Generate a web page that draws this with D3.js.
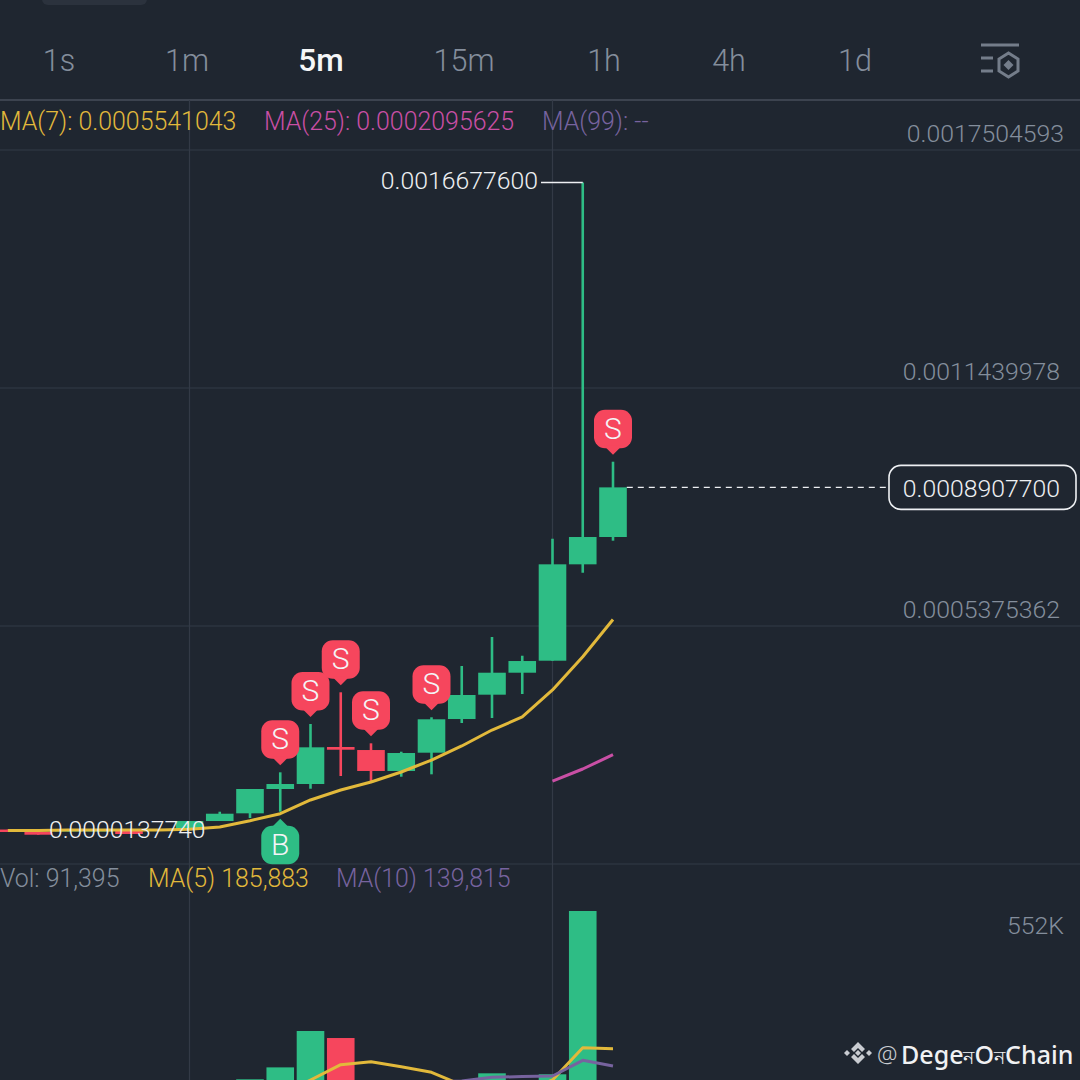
<!DOCTYPE html>
<html>
<head>
<meta charset="utf-8">
<script src="https://cdn.jsdelivr.net/npm/d3@7"></script>
<style>
  html, body { margin: 0; padding: 0; background: #1f2630; }
  svg { display: block; }
  text { font-family: Roboto, sans-serif; font-weight: 300; }
</style>
</head>
<body>
<svg></svg>
<script>
// prices are in units of 1e-6
let opens  = [18.9, 12.6, 14, 14, 17.7, 15.1, 17.7, 40.6, 60.2, 122.2, 134.9, 229.2, 221.5, 168.1, 214.7, 300.5, 362.5, 418.5, 449.1, 694.7, 764.3];
let closes = [12.6, 5.7, 19, 19, 7.5, 20.2, 40.6, 59.2, 122.2, 134.9, 228.4, 222.3, 168.1, 213.9, 299.8, 361.7, 418.5, 448.3, 694.7, 764.3, 890.77];
let highs  = [18.9, 12.6, 19, 19, 17.7, 20.2, 40.6, 64.3, 122.2, 164.7, 287.8, 368.6, 238.6, 217.2, 304.9, 435.6, 509.5, 461.8, 759.9, 1667.76, 956.2];
let lows   = [12.6, 5.7, 14, 14, 7.5, 15.1, 17.7, 40.6, 48.2, 64.3, 122.9, 155.3, 140, 153.5, 159.6, 290.3, 303.1, 364.2, 449.1, 673.3, 754.9];
let ma7    = [16.4, 16.4, 17.7, 17.7, 17.7, 17.7, 19.5, 25.4, 41.4, 59.2, 94.2, 119.7, 140, 165.5, 196, 231.8, 272.5, 305.7, 374.5, 459.3, 554.1];
let ma25   = [null, null, null, null, null, null, null, null, null, null, null, null, null, null, null, null, null, null, 142.5, 173.1, 209.56];

let volumes = [3000, 2500, 2000, 2000, 3000, 3000, 5000, 20000, 104300, 136000, 232800, 214100, 95000, 40000, 85000, 60000, 120200, 50000, 117600, 552000, 91395];
let volMa5  = [null, null, null, null, null, null, null, null, null, 62500, 102400, 143100, 151100, 137800, 122900, 89100, 70500, 70500, 102400, 188300, 185883];
let volMa10 = [null, null, null, null, null, null, null, null, null, null, null, null, null, null, 97000, 99800, 109600, 111700, 113000, 154800, 139815];

let sellMarks = [9, 10, 11, 12, 14, 20];
let buyMarks = [9];

let tabs = ["1s", "1m", "5m", "15m", "1h", "4h", "1d"];
let tabCenters = [59, 187, 321, 464, 604, 729, 855];
let activeTab = "5m";
let priceTicks = [1750.4593, 1143.9978, 537.5362];
let priceTickLabels = ["0.0017504593", "0.0011439978", "0.0005375362"];

let width = 1080;
let height = 1080;
let background = "#1f2630";
let green = "#2ebd85";
let red = "#f6465d";
let yellow = "#e2b93b";
let pink = "#c94fa5";
let purple = "#77639f";
let gridColor = "#333a46";
let gray = "#848e9c";
let white = "#eef0f3";
let labelSize = 24.8;

let svg = d3.select("svg").attr("width", width).attr("height", height);

let xScale = d3.scaleLinear().domain([0, 20]).range([8, 613]);
let yScale = d3.scaleLinear().domain([1750.4593, 537.5362]).range([150, 626]);
let volScale = d3.scaleLinear().domain([0, 552000]).range([1118.5, 911]);

let candleWidth = 27.6;
let indexes = d3.range(opens.length);

let drawGrid = () => {
    svg.append("rect").attr("width", width).attr("height", height).attr("fill", background);

    svg.append("rect")
        .attr("x", 42).attr("y", -10)
        .attr("width", 105).attr("height", 15)
        .attr("rx", 6)
        .attr("fill", "#2b323d");

    svg.selectAll(".hgrid")
        .data([100, 150, 388, 626, 864])
        .enter()
        .append("line")
        .attr("class", "hgrid")
        .attr("x1", 0).attr("x2", width)
        .attr("y1", (d) => d).attr("y2", (d) => d)
        .attr("stroke", (d) => d == 100 ? "#3c434f" : gridColor)
        .attr("stroke-width", (d) => d == 100 ? 2 : 1.2);

    svg.selectAll(".vgrid")
        .data([6, 18])
        .enter()
        .append("line")
        .attr("class", "vgrid")
        .attr("x1", (d) => xScale(d)).attr("x2", (d) => xScale(d))
        .attr("y1", 100).attr("y2", height)
        .attr("stroke", gridColor)
        .attr("stroke-width", 1.2);
};

let drawHeader = () => {
    svg.selectAll(".tab")
        .data(tabs)
        .enter()
        .append("text")
        .attr("class", "tab")
        .attr("x", (d, i) => tabCenters[i])
        .attr("y", 71)
        .attr("text-anchor", "middle")
        .attr("font-size", (d) => d == activeTab ? 31.5 : 30.5)
        .style("font-weight", (d) => d == activeTab ? 500 : 300)
        .attr("fill", (d) => d == activeTab ? "#f5f6f7" : gray)
        .text((d) => d);

    // settings icon
    let icon = svg.append("g").attr("fill", "none").attr("stroke", "#747d8a").attr("stroke-width", 3);
    icon.append("path").attr("d", "M981 45H1019M981 58H993M981 71H993");
    icon.append("path").attr("d", "M1008.5 53L1018 59V71L1008.5 77L999 71V59Z");
    icon.append("path").attr("d", "M1008.5 60L1013.5 65L1008.5 70L1003.5 65Z").attr("fill", "#747d8a").attr("stroke", "none");
};

let drawLegends = () => {
    let legend = (x, y, color, label) => {
        svg.append("text")
            .attr("x", x).attr("y", y)
            .attr("font-size", 24.9)
            .attr("fill", color)
            .text(label);
    };
    legend(0, 129.5, yellow, "MA(7): 0.0005541043");
    legend(264, 129.5, pink, "MA(25): 0.0002095625");
    legend(542, 129.5, purple, "MA(99): --");
    legend(0, 886.5, gray, "Vol: 91,395");
    legend(148, 886.5, yellow, "MA(5) 185,883");
    legend(336, 886.5, purple, "MA(10) 139,815");

    svg.selectAll(".price-label")
        .data(priceTicks)
        .enter()
        .append("text")
        .attr("class", "price-label")
        .attr("x", (d, i) => i == 0 ? 1064 : 1060)
        .attr("y", (d) => yScale(d) - 8)
        .attr("text-anchor", "end")
        .attr("font-size", labelSize)
        .attr("fill", gray)
        .text((d, i) => priceTickLabels[i]);

    svg.append("text")
        .attr("x", 1064).attr("y", 933.5)
        .attr("text-anchor", "end")
        .attr("font-size", labelSize)
        .attr("fill", gray)
        .text("552K");
};

let drawVolumes = () => {
    svg.selectAll(".vol")
        .data(indexes)
        .enter()
        .append("rect")
        .attr("class", "vol")
        .attr("x", (i) => xScale(i) - candleWidth / 2)
        .attr("y", (i) => volScale(volumes[i]))
        .attr("width", candleWidth)
        .attr("height", (i) => volScale(0) - volScale(volumes[i]))
        .attr("fill", (i) => closes[i] >= opens[i] ? green : red);
};

let drawCandles = () => {
    svg.selectAll(".wick")
        .data(indexes)
        .enter()
        .append("line")
        .attr("class", "wick")
        .attr("x1", (i) => xScale(i)).attr("x2", (i) => xScale(i))
        .attr("y1", (i) => yScale(highs[i])).attr("y2", (i) => yScale(lows[i]))
        .attr("stroke", (i) => closes[i] >= opens[i] ? green : red)
        .attr("stroke-width", 2.6);

    svg.selectAll(".body")
        .data(indexes)
        .enter()
        .append("rect")
        .attr("class", "body")
        .attr("x", (i) => xScale(i) - candleWidth / 2)
        .attr("y", (i) => yScale(Math.max(opens[i], closes[i])))
        .attr("width", candleWidth)
        .attr("height", (i) => Math.abs(yScale(opens[i]) - yScale(closes[i])))
        .attr("fill", (i) => closes[i] >= opens[i] ? green : red);
};

let drawLine = (values, scale, color) => {
    let line = d3.line()
        .defined((d) => d != null)
        .x((d, i) => xScale(i))
        .y((d) => scale(d));
    svg.append("path")
        .attr("d", line(values))
        .attr("fill", "none")
        .attr("stroke", color)
        .attr("stroke-width", 3)
        .attr("stroke-linejoin", "round");
};

let drawPriceLabels = () => {
    let highY = yScale(1667.76);
    svg.append("line")
        .attr("x1", 541).attr("x2", xScale(19))
        .attr("y1", highY).attr("y2", highY)
        .attr("stroke", white).attr("stroke-width", 1.4);
    svg.append("text")
        .attr("x", 538).attr("y", highY + 6.5)
        .attr("text-anchor", "end")
        .attr("font-size", labelSize)
        .attr("fill", white)
        .text("0.0016677600");

    svg.append("text")
        .attr("x", 49).attr("y", yScale(13.774) + 6)
        .attr("font-size", 24.7)
        .attr("fill", white)
        .text("0.0000137740");

    let lastY = yScale(closes[20]);
    svg.append("line")
        .attr("x1", xScale(20) + candleWidth / 2).attr("x2", 889)
        .attr("y1", lastY).attr("y2", lastY)
        .attr("stroke", white).attr("stroke-width", 1.4)
        .attr("stroke-dasharray", "6 5");
    svg.append("rect")
        .attr("x", 889).attr("y", lastY - 22)
        .attr("width", 187).attr("height", 44)
        .attr("rx", 12)
        .attr("fill", background)
        .attr("stroke", white).attr("stroke-width", 1.6);
    svg.append("text")
        .attr("x", 1060).attr("y", lastY + 9.5)
        .attr("text-anchor", "end")
        .attr("font-size", labelSize)
        .attr("fill", white)
        .text("0.0008907700");
};

let drawMarks = () => {
    // bubble with a small tip, tip sits 7px off the wick end
    let bubble = (cx, tipY, dir, color, label) => {
        let g = svg.append("g").attr("transform", "translate(" + cx + "," + tipY + ")");
        let top = dir < 0 ? -45 : 7;
        g.append("rect")
            .attr("x", -19).attr("y", top)
            .attr("width", 38).attr("height", 38.5)
            .attr("rx", 11)
            .attr("fill", color);
        g.append("path")
            .attr("d", "M-9 " + (dir * 9) + "L0 0L9 " + (dir * 9) + "Z")
            .attr("fill", color);
        g.append("text")
            .attr("x", 0).attr("y", top + 29)
            .attr("text-anchor", "middle")
            .attr("font-size", 30)
            .attr("fill", "#f3f4f6")
            .text(label);
    };
    sellMarks.forEach((i) => bubble(xScale(i), yScale(highs[i]) - 7, -1, red, "S"));
    buyMarks.forEach((i) => bubble(xScale(i), yScale(lows[i]) + 7, 1, green, "B"));
};

let drawWatermark = () => {
    let g = svg.append("g").attr("transform", "translate(858,1053)").attr("fill", "#c9ccd1");
    g.append("path").attr("d", "M0 -11L7 -4L4 -1L0 -5L-4 -1L-7 -4Z");
    g.append("path").attr("d", "M0 11L7 4L4 1L0 5L-4 1L-7 4Z");
    g.append("path").attr("d", "M0 -3L3 0L0 3L-3 0Z");
    g.append("path").attr("d", "M-11 -3L-8 0L-11 3L-14 0Z");
    g.append("path").attr("d", "M11 -3L14 0L11 3L8 0Z");

    svg.append("text")
        .attr("x", 877).attr("y", 1063)
        .attr("font-size", 23)
        .attr("fill", "#c9ccd1")
        .style("font-family", "'Noto Sans'")
        .text("@");

    let name = svg.append("text")
        .attr("x", 901).attr("y", 1064)
        .attr("font-size", 25)
        .attr("fill", "#f0f1f3")
        .style("font-family", "'Noto Sans'")
        .style("font-weight", 500);
    name.append("tspan").text("Dege");
    name.append("tspan").attr("font-size", 19).text("\u09a8");
    name.append("tspan").text("O");
    name.append("tspan").attr("font-size", 19).text("\u09a8");
    name.append("tspan").text("Chain");
};

drawGrid();
drawVolumes();
drawLine(volMa5, volScale, yellow);
drawLine(volMa10, volScale, purple);
drawCandles();
drawLine(ma7, yScale, yellow);
drawLine(ma25, yScale, pink);
drawHeader();
drawLegends();
drawPriceLabels();
drawMarks();
drawWatermark();
</script>
</body>
</html>
